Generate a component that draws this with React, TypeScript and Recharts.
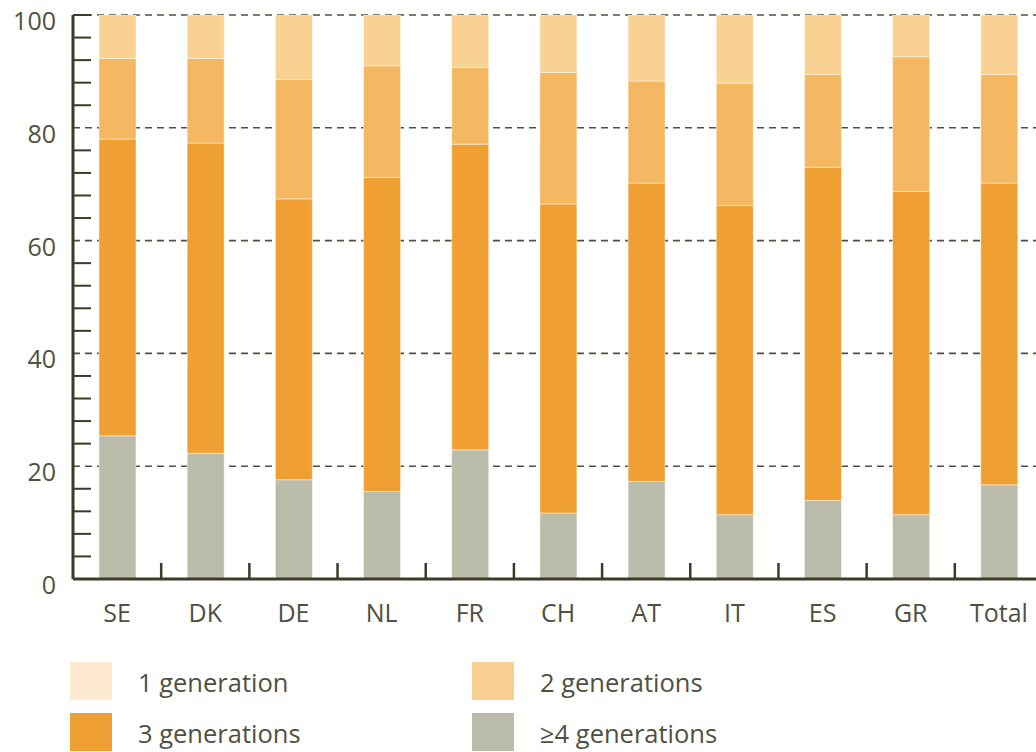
import React from 'react';
import { BarChart, Bar, XAxis, YAxis, CartesianGrid } from 'recharts';

const categories = ['SE', 'DK', 'DE', 'NL', 'FR', 'CH', 'AT', 'IT', 'ES', 'GR', 'Total'];
const gen4 = [25.4, 22.3, 17.6, 15.5, 22.9, 11.7, 17.3, 11.4, 13.9, 11.4, 16.7];
const gen3 = [52.6, 55.0, 49.8, 55.7, 54.2, 54.8, 52.9, 54.8, 59.1, 57.3, 53.5];
const gen2 = [14.3, 15.0, 21.2, 19.8, 13.6, 23.3, 18.1, 21.7, 16.5, 23.9, 19.3];
const gen1 = [7.7, 7.7, 11.4, 9.0, 9.3, 10.2, 11.7, 12.1, 10.5, 7.4, 10.5];
const yTicks = [0, 4, 8, 12, 16, 20, 24, 28, 32, 36, 40, 44, 48, 52, 56, 60, 64, 68, 72, 76, 80, 84, 88, 92, 96, 100];
const gridValues = [20, 40, 60, 80, 100];
const legendItems = [
  { label: '1 generation', color: '#FDE9CD' },
  { label: '2 generations', color: '#F8D093' },
  { label: '3 generations', color: '#F09F32' },
  { label: '\u22654 generations', color: '#BABCA9' },
];

const data = categories.map((c, i) => ({
  name: c,
  g4: gen4[i],
  g3: gen3[i],
  g2: gen2[i],
  g1: gen1[i],
}));

const FONT = '"Open Sans", "Noto Sans", sans-serif';
const TEXT = '#505042';
const AXIS = '#3c3b27';
const Y_W = 73;
const PLOT_W = 970;
const BAND = PLOT_W / categories.length;

const YTick = (props: any) => {
  const { x, y, payload } = props;
  const v = payload.value;
  const major = v % 20 === 0;
  return (
    <g>
      {(!major || v === 100) && <line x1={x} x2={x + 18} y1={y} y2={y} stroke={AXIS} strokeWidth={2} />}
      {major && (
        <text x={x - 17} y={y + 15} textAnchor="end" fontSize={25} fontFamily={FONT} fill={TEXT}>
          {v}
        </text>
      )}
    </g>
  );
};

const XTick = (props: any) => {
  const { x, y, payload } = props;
  const bx = x + BAND / 2;
  return (
    <g>
      <line x1={bx} x2={bx} y1={y} y2={y - 16} stroke={AXIS} strokeWidth={2.5} />
      <text x={x} y={y + 43} textAnchor="middle" fontSize={25} fontFamily={FONT} fill={TEXT}>
        {payload.value}
      </text>
    </g>
  );
};

export default function App() {
  return (
    <div
      style={{
        position: 'fixed',
        left: 0,
        top: 0,
        width: 1036,
        height: 752,
        overflow: 'hidden',
        background: '#ffffff',
        fontFamily: FONT,
      }}
    >
      <BarChart
        width={Y_W + PLOT_W + 2}
        height={640}
        data={data}
        margin={{ top: 15, right: 2, left: 0, bottom: 0 }}
        barSize={37}
      >
        <CartesianGrid
          vertical={false}
          horizontalValues={gridValues}
          stroke="#505040"
          strokeWidth={1.6}
          strokeDasharray="7 5"
        />
        <XAxis
          dataKey="name"
          height={61}
          interval={0}
          tickLine={false}
          tickSize={0}
          tickMargin={0}
          axisLine={{ stroke: AXIS, strokeWidth: 3 }}
          tick={<XTick />}
        />
        <YAxis
          width={Y_W}
          domain={[0, 100]}
          allowDataOverflow
          ticks={yTicks}
          interval={0}
          tickLine={false}
          tickSize={0}
          tickMargin={0}
          axisLine={{ stroke: AXIS, strokeWidth: 3 }}
          tick={<YTick />}
        />
        <Bar dataKey="g4" stackId="a" fill="#BABCA9" stroke="rgba(255,255,255,0.45)" strokeWidth={1} isAnimationActive={false} />
        <Bar dataKey="g3" stackId="a" fill="#F09F32" stroke="rgba(255,255,255,0.45)" strokeWidth={1} isAnimationActive={false} />
        <Bar dataKey="g2" stackId="a" fill="#F3B861" stroke="rgba(255,255,255,0.45)" strokeWidth={1} isAnimationActive={false} />
        <Bar dataKey="g1" stackId="a" fill="#F8D193" stroke="rgba(255,255,255,0.45)" strokeWidth={1} isAnimationActive={false} />
      </BarChart>
      {legendItems.map((item, i) => {
        const col = i % 2;
        const row = Math.floor(i / 2);
        const left = col === 0 ? 70 : 472;
        const top = row === 0 ? 662 : 713;
        return (
          <div key={item.label} style={{ position: 'absolute', left, top, height: 40 }}>
            <div
              style={{
                position: 'absolute',
                left: 0,
                top: 0,
                width: 42,
                height: 38,
                background: item.color,
              }}
            />
            <div
              style={{
                position: 'absolute',
                left: 68,
                top: 3,
                whiteSpace: 'nowrap',
                fontSize: 25.5,
                lineHeight: '34px',
                color: TEXT,
                fontFamily: FONT,
              }}
            >
              {item.label}
            </div>
          </div>
        );
      })}
    </div>
  );
}
